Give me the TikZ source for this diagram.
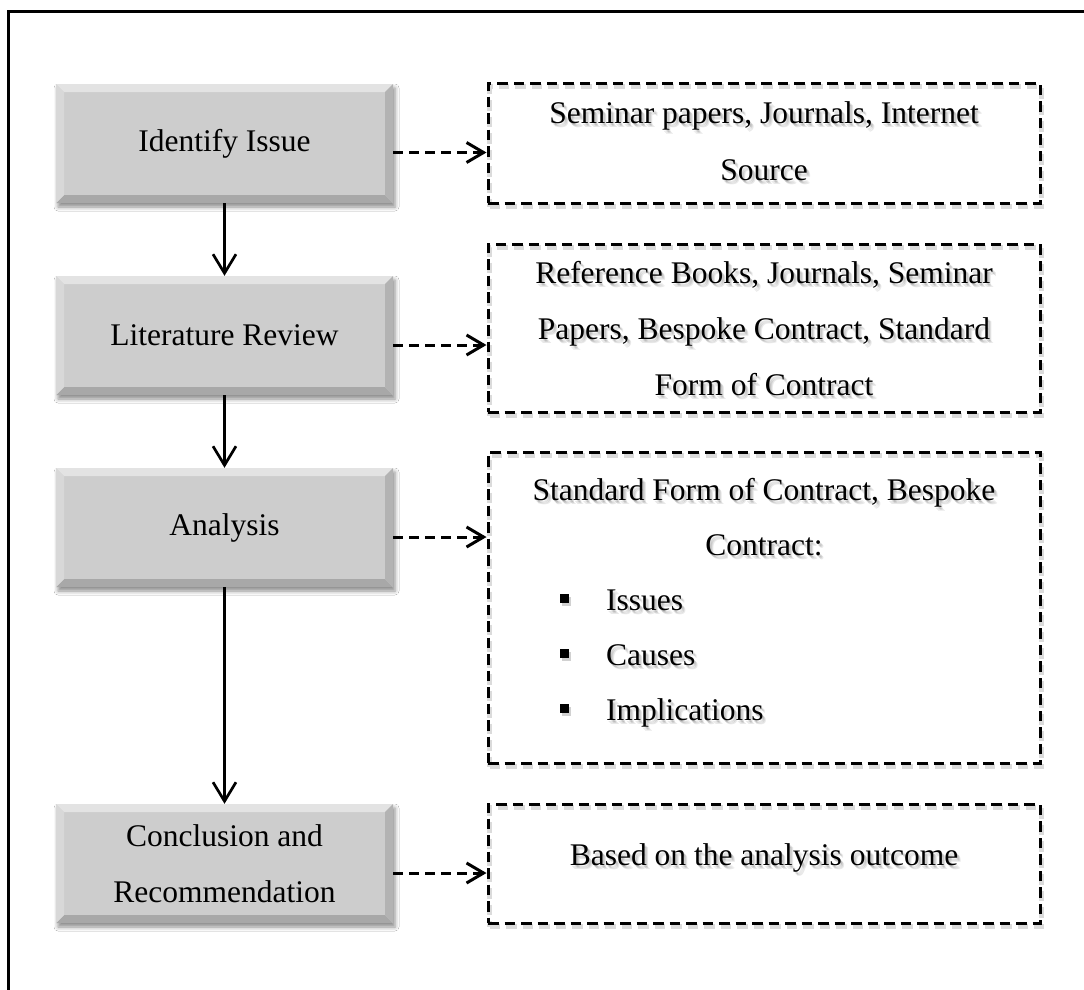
\documentclass[tikz,border=0pt]{standalone}
\usepackage{fontspec}
\setmainfont{Liberation Serif}
\usetikzlibrary{arrows.meta,shadows.blur}
\definecolor{boxgray}{HTML}{CDCDCD}
\definecolor{bevtop}{HTML}{E3E3E3}
\definecolor{bevleft}{HTML}{D8D8D8}
\definecolor{bevright}{HTML}{B3B3B3}
\definecolor{bevbot}{HTML}{A8A8A8}
\newcommand\shtext[4]{%
  \foreach \k/\dx/\dy in {1/1.5/2.5,2/2.5/3.5,3/3.5/4.5}
    {\node[txt, anchor=#1, text=black, opacity=0.09] (#3-sh\k) at ([xshift=\dx pt,yshift=-\dy pt]#2) {#4};}
  \node[txt, anchor=#1] (#3) at (#2) {#4};}
\begin{document}
\begin{tikzpicture}[x=1pt,y=-1pt,
  txt/.style={font=\fontsize{31.5}{56}\selectfont, inner sep=0pt, align=center},
  graybox/.style={txt, fill=boxgray, minimum width=337pt, minimum height=119pt,
    blur shadow={shadow xshift=2pt, shadow yshift=-4pt, shadow blur radius=4pt, shadow opacity=45},
    path picture={
      \fill[bevtop] (path picture bounding box.north west) -- (path picture bounding box.north east)
        -- ([xshift=-8pt,yshift=-8pt]path picture bounding box.north east) -- ([xshift=8pt,yshift=-8pt]path picture bounding box.north west) -- cycle;
      \fill[bevbot] (path picture bounding box.south west) -- (path picture bounding box.south east)
        -- ([xshift=-8pt,yshift=8pt]path picture bounding box.south east) -- ([xshift=8pt,yshift=8pt]path picture bounding box.south west) -- cycle;
      \fill[bevleft] (path picture bounding box.north west) -- ([xshift=8pt,yshift=-8pt]path picture bounding box.north west)
        -- ([xshift=8pt,yshift=8pt]path picture bounding box.south west) -- (path picture bounding box.south west) -- cycle;
      \fill[bevright] (path picture bounding box.north east) -- ([xshift=-8pt,yshift=-8pt]path picture bounding box.north east)
        -- ([xshift=-8pt,yshift=8pt]path picture bounding box.south east) -- (path picture bounding box.south east) -- cycle;
    }},
  dbox/.style={draw, line width=3pt, dash pattern=on 10.5pt off 6pt, minimum width=552pt, inner sep=0pt,
    preaction={draw=black!14, line width=4.5pt, dash pattern=on 10.5pt off 6pt, transform canvas={shift={(1.5pt,-3.5pt)}}}},
  solidarrow/.style={line width=2.7pt, -{Straight Barb[length=19pt,width=23pt]}},
  darrow/.style={line width=3pt, dash pattern=on 10pt off 6pt, -{Straight Barb[length=17pt,width=20pt]}},
  bullet/.style={fill=black, minimum size=9pt, inner sep=0pt,
    preaction={fill=black!18, transform canvas={shift={(2pt,-3pt)}}}},
]
\useasboundingbox (0,0) rectangle (1084,989);
\fill[white] (0,0) rectangle (1084,989);
\draw[line width=3pt] (8,995) -- (8,11) -- (1090,11);

% gray process boxes
\node[graybox] (g1) at (224.5,143.5) {Identify Issue};
\node[graybox] (g2) at (224.5,335.5) {Literature Review};
\node[graybox] (g3) at (224.5,527.5) {Analysis};
\node[graybox] (g4) at (224.5,863.5) {Conclusion and\\Recommendation};

% dashed boxes
\node[dbox, minimum height=120pt] (d1) at (764,143) {};
\node[dbox, minimum height=168pt] (d2) at (764,328) {};
\node[dbox, minimum height=311pt] (d3) at (764,607.5) {};
\node[dbox, minimum height=119pt] (d4) at (764,863.5) {};

% texts of dashed boxes
\shtext{base}{764,123}{t1a}{Seminar papers, Journals, Internet}
\shtext{base}{764,180}{t1b}{Source}
\shtext{base}{764,283}{t2a}{Reference Books, Journals, Seminar}
\shtext{base}{764,339}{t2b}{Papers, Bespoke Contract, Standard}
\shtext{base}{764,395}{t2c}{Form of Contract}
\shtext{base}{764,500}{t3a}{Standard Form of Contract, Bespoke}
\shtext{base}{764,555}{t3b}{Contract:}
\shtext{base west}{606,610}{t3c}{Issues}
\shtext{base west}{606,665}{t3d}{Causes}
\shtext{base west}{606,720}{t3e}{Implications}
\node[bullet] (b1) at (564.5,598.5) {};
\node[bullet] (b2) at (564.5,653.5) {};
\node[bullet] (b3) at (564.5,708.5) {};
\shtext{base}{764,865}{t4}{Based on the analysis outcome}

% connectors
\draw[solidarrow] (g1) -- (g2);
\draw[solidarrow] (g2) -- (g3);
\draw[solidarrow] (g3) -- (g4);
\draw[darrow] ([yshift=-9pt]g1.east) -- ([yshift=-9pt]g1.east -| d1.west);
\draw[darrow] ([yshift=-9.5pt]g2.east) -- ([yshift=-9.5pt]g2.east -| d2.west);
\draw[darrow] ([yshift=-9.5pt]g3.east) -- ([yshift=-9.5pt]g3.east -| d3.west);
\draw[darrow] ([yshift=-9.5pt]g4.east) -- ([yshift=-9.5pt]g4.east -| d4.west);
\end{tikzpicture}
\end{document}
